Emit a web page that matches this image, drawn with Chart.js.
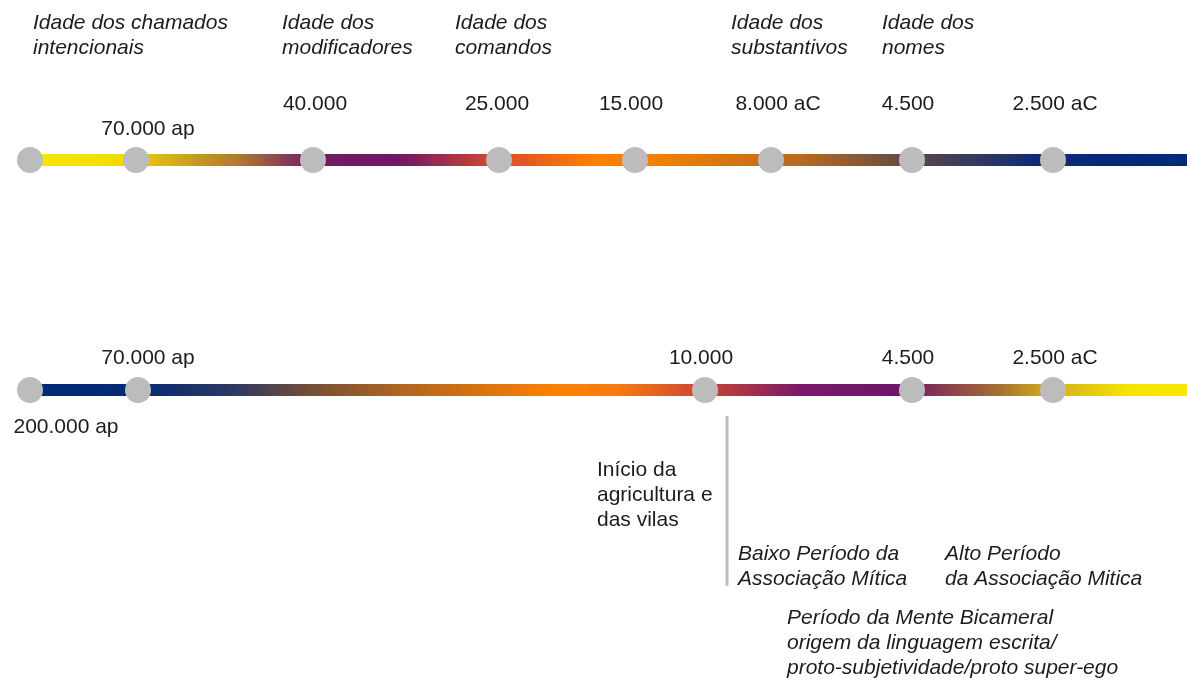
<!DOCTYPE html>
<html>
<head>
<meta charset="utf-8">
<script src="https://cdn.jsdelivr.net/npm/chart.js@4"></script>
<style>
  html, body { margin: 0; padding: 0; background: #ffffff; }
  #wrap { width: 1187px; height: 681px; position: relative; }
</style>
</head>
<body>
<div id="wrap"><canvas id="c"></canvas></div>
<script>
// ---- data (timeline positions along the axis) ----
const topEventPos   = [30, 136, 313, 499, 635, 771, 912, 1053];
const topEventLbl   = ['', '70.000 ap', '40.000', '25.000', '15.000', '8.000 aC', '4.500', '2.500 aC'];
const bottomEventPos = [30, 138, 705, 912, 1053];
const bottomEventLbl = ['200.000 ap', '70.000 ap', '10.000', '4.500', '2.500 aC'];
const timelineEnd = 1187;
const rowTop = 160;
const rowBottom = 390;
const markerPos = 727;          // "Início da agricultura" marker
const markerRange = [416, 586];
const topAges = [
  ['Idade dos chamados', 'intencionais'],
  ['Idade dos', 'modificadores'],
  ['Idade dos', 'comandos'],
  ['Idade dos', 'substantivos'],
  ['Idade dos', 'nomes']
];
const topAgePos = [33, 282, 455, 731, 882];
const notes = [
  { lines: ['Início da', 'agricultura e', 'das vilas'], x: 597, y: 476, italic: false },
  { lines: ['Baixo Período da', 'Associação Mítica'], x: 738, y: 560, italic: true },
  { lines: ['Alto Período', 'da Associação Mitica'], x: 945, y: 560, italic: true },
  { lines: ['Período da Mente Bicameral', 'origem da linguagem escrita/', 'proto-subjetividade/proto super-ego'], x: 787, y: 624, italic: true }
];

// ---- styles ----
const topStops = [
  [0.000, '#f8e800'], [0.095, '#f4de00'], [0.200, '#b07a30'], [0.262, '#731c66'],
  [0.335, '#6e1668'], [0.420, '#d84a2e'], [0.500, '#ff8000'], [0.555, '#f28000'],
  [0.675, '#b86a20'], [0.770, '#5a4848'], [0.875, '#0c2a76'], [1.000, '#002a7a']
];
const bottomStops = [
  [0.000, '#002a7a'], [0.120, '#062a74'], [0.200, '#303a60'], [0.255, '#6e4c3a'],
  [0.337, '#b06520'], [0.470, '#ff8000'], [0.520, '#f87a10'], [0.585, '#d04a30'],
  [0.675, '#7a1868'], [0.760, '#6e1668'], [0.842, '#a87030'], [0.880, '#cfa820'],
  [0.950, '#f5e400'], [1.000, '#f8e800']
];
const FONT = '"Liberation Sans", Arial, Helvetica, sans-serif';
const FS = 21;
const LH = 25;
const textColor = '#1c1c1c';
const markerGrey = '#bdbcbd';

function makeGradient(stops) {
  return function (ctx) {
    const chart = ctx.chart;
    const area = chart.chartArea;
    if (!area) return stops[0][1];
    const g = chart.ctx.createLinearGradient(area.left, 0, area.right, 0);
    stops.forEach(s => g.addColorStop(s[0], s[1]));
    return g;
  };
}

function rowData(pos, y) {
  const pts = pos.map(x => ({ x: x, y: y }));
  pts.push({ x: timelineEnd, y: y });
  return pts;
}
function radii(pos) {
  const r = pos.map(() => 13);
  r.push(0);
  return r;
}

const labelPlugin = {
  id: 'labels',
  afterDatasetsDraw(chart) {
    const ctx = chart.ctx;
    const xs = chart.scales.x, ys = chart.scales.y;
    ctx.save();
    ctx.fillStyle = textColor;
    ctx.textBaseline = 'alphabetic';
    // age headers
    ctx.font = 'italic ' + FS + 'px ' + FONT;
    ctx.textAlign = 'left';
    topAges.forEach((lines, i) => {
      lines.forEach((t, j) => ctx.fillText(t, xs.getPixelForValue(topAgePos[i]), 29 + j * LH));
    });
    // date labels (centered on their event, with small nudges)
    ctx.font = FS + 'px ' + FONT;
    ctx.textAlign = 'center';
    const topDx = [0, 12, 2, -2, -4, 7, -4, 2];
    const topDy = [0, -25, -50, -50, -50, -50, -50, -50];
    topEventLbl.forEach((t, i) => {
      if (!t) return;
      ctx.fillText(t, xs.getPixelForValue(topEventPos[i]) + topDx[i], ys.getPixelForValue(rowTop) + topDy[i]);
    });
    const botDx = [36, 10, -4, -4, 2];
    bottomEventLbl.forEach((t, i) => {
      const below = i === 0;
      const yy = ys.getPixelForValue(rowBottom) + (below ? 43 : -26);
      ctx.fillText(t, xs.getPixelForValue(bottomEventPos[i]) + botDx[i], yy);
    });
    // notes
    ctx.textAlign = 'left';
    notes.forEach(n => {
      ctx.font = (n.italic ? 'italic ' : '') + FS + 'px ' + FONT;
      n.lines.forEach((t, j) => ctx.fillText(t, n.x, n.y + j * LH));
    });
    ctx.restore();
  }
};

new Chart(document.getElementById('c'), {
  type: 'line',
  data: {
    datasets: [
      {
        data: rowData(topEventPos, rowTop),
        borderColor: makeGradient(topStops),
        borderWidth: 12,
        borderCapStyle: 'butt',
        pointRadius: radii(topEventPos),
        pointBackgroundColor: markerGrey,
        pointBorderWidth: 0,
        tension: 0
      },
      {
        data: rowData(bottomEventPos, rowBottom),
        borderColor: makeGradient(bottomStops),
        borderWidth: 12,
        borderCapStyle: 'butt',
        pointRadius: radii(bottomEventPos),
        pointBackgroundColor: markerGrey,
        pointBorderWidth: 0,
        tension: 0
      },
      {
        data: [{ x: markerPos, y: markerRange[0] }, { x: markerPos, y: markerRange[1] }],
        borderColor: '#bdbdbd',
        borderWidth: 3,
        borderCapStyle: 'butt',
        pointRadius: 0
      }
    ]
  },
  options: {
    responsive: true,
    maintainAspectRatio: false,
    devicePixelRatio: 1,
    animation: false,
    events: [],
    layout: { padding: 0, autoPadding: false },
    plugins: { legend: { display: false }, tooltip: { enabled: false } },
    scales: {
      x: { type: 'linear', min: 0, max: 1187, display: false },
      y: { type: 'linear', min: 0, max: 681, reverse: true, display: false }
    }
  },
  plugins: [labelPlugin]
});
</script>
</body>
</html>
